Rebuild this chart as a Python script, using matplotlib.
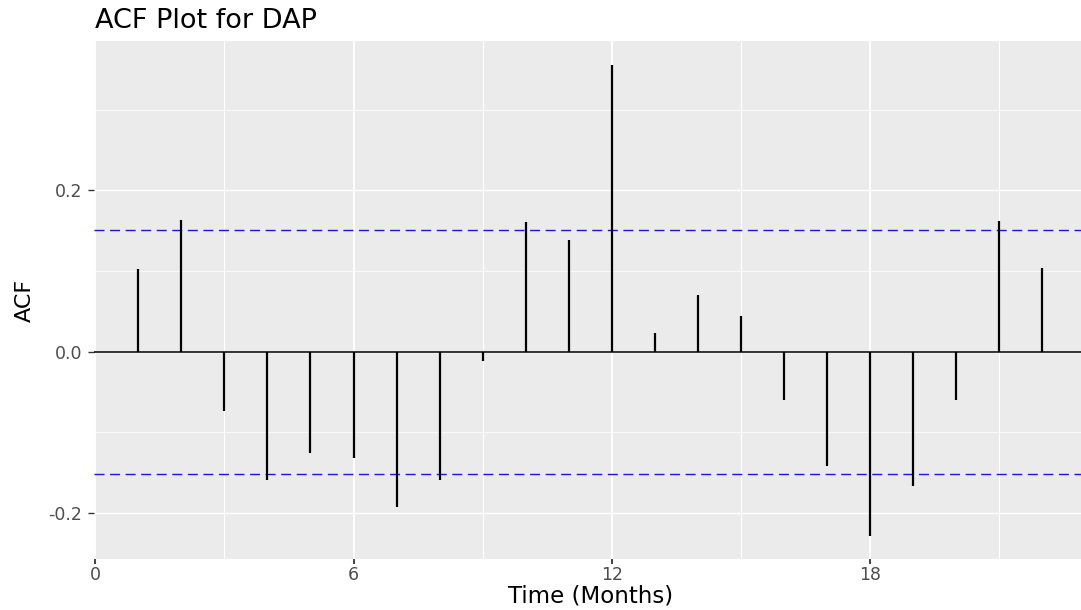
import matplotlib
matplotlib.use("Agg")
import matplotlib.pyplot as plt
import numpy as np

lags = list(range(1, 23))
acf_values = [0.103, 0.163, -0.074, -0.159, -0.126, -0.132, -0.192, -0.159, -0.012,
              0.161, 0.138, 0.355, 0.023, 0.070, 0.044, -0.060, -0.142, -0.228,
              -0.167, -0.060, 0.162, 0.104]
conf_limit = 0.151
x_ticks = [0, 6, 12, 18]
y_ticks = [-0.2, 0.0, 0.2]
y_tick_labels = ['-0.2', '0.0', '0.2']
title = "ACF Plot for DAP"
xlabel = "Time (Months)"
ylabel = "ACF"

plt.rcParams['font.family'] = ['DejaVu Sans']

W, H = 1081, 610
fig = plt.figure(figsize=(W / 100, H / 100), dpi=100)
left_px, right_px, top_px, bot_px = 94, 1087.3, 41, 559
ax = fig.add_axes([left_px / W, 1 - bot_px / H, (right_px - left_px) / W, (bot_px - top_px) / H])
ax.set_facecolor('#EBEBEB')
for s in ax.spines.values():
    s.set_visible(False)

ax.set_xlim(-0.03, 23.05)
ax.set_ylim(-0.2569, 0.385)

# grid
ax.set_xticks(x_ticks)
ax.set_yticks(y_ticks)
ax.set_xticks([3, 9, 15, 21], minor=True)
ax.set_yticks([-0.1, 0.1, 0.3], minor=True)
ax.grid(True, axis='x', which='major', color='white', linewidth=1.4)
ax.grid(True, axis='y', which='major', color='white', linewidth=1.0)
ax.grid(True, axis='x', which='minor', color='white', linewidth=0.8)
ax.grid(True, axis='y', which='minor', color='white', linewidth=0.55)
ax.set_axisbelow(True)
ax.tick_params(which='minor', length=0)
ax.tick_params(axis='y', which='major', length=4.5, width=1.0, color='#333333',
               labelcolor='#4D4D4D', labelsize=12.5, pad=4)
ax.tick_params(axis='x', which='major', length=3.3, width=1.3, color='#333333',
               labelcolor='#4D4D4D', labelsize=12.5, pad=2)
ax.set_yticklabels(y_tick_labels)

ax.axhline(0, color='black', linewidth=1.1, zorder=3)
ax.axhline(conf_limit, color='#1515F0', linestyle=(0, (7.2, 4)), linewidth=1.0, zorder=3)
ax.axhline(-conf_limit, color='#1515F0', linestyle=(0, (7.2, 4)), linewidth=1.0, zorder=3)
ax.vlines(lags, 0, acf_values, color='black', linewidth=1.6, zorder=4)

ax.set_xlabel(xlabel, fontsize=16.5, color='black', labelpad=0)
ax.set_ylabel(ylabel, fontsize=16, color='black', labelpad=10)
fig.text(95 / W, 1 - 27.5 / H, title, fontsize=19.5, color='black', ha='left', va='baseline')

fig.savefig('out.png', dpi=100)
